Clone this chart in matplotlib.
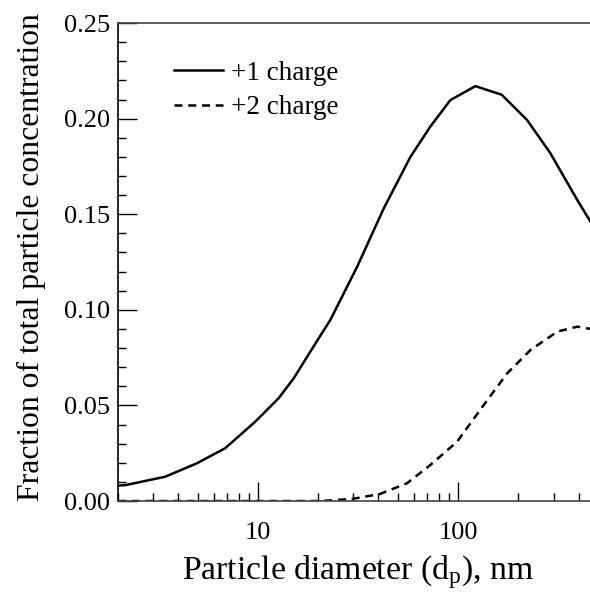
import matplotlib
matplotlib.use("Agg")
import matplotlib.pyplot as plt
from matplotlib.ticker import LogLocator, FixedLocator, MultipleLocator, NullFormatter, FixedFormatter

plt.rcParams['font.family'] = ['Liberation Serif', 'DejaVu Serif']
plt.rcParams['mathtext.fontset'] = 'custom'
plt.rcParams['mathtext.rm'] = 'Liberation Serif'
plt.rcParams['mathtext.it'] = 'Liberation Serif'

# +1 charge
d1 = [2.0, 2.2, 3.44, 4.95, 6.86, 9.7, 12.7, 15.1, 19.4, 23.0, 31.3, 42.5, 57.8, 72.6, 91.5, 122.0, 165.0, 221.0, 289.0, 394.0, 459.0, 500.0]
v1 = [0.0080, 0.0084, 0.0127, 0.0197, 0.0276, 0.0415, 0.0538, 0.0642, 0.0825, 0.0947, 0.1225, 0.1530, 0.1800, 0.1958, 0.2097, 0.2170, 0.2125, 0.1993, 0.1819, 0.1574, 0.1460, 0.1400]
# +2 charge
d2 = [2.0, 5.0, 10.0, 20.0, 23.0, 30.0, 40.8, 55.6, 72.6, 98.8, 140.0, 176.0, 230.0, 313.0, 394.0, 459.0, 500.0]
v2 = [0.0, 0.0, 0.0, 0.0, 0.0003, 0.0012, 0.0037, 0.0093, 0.0188, 0.0310, 0.0528, 0.0668, 0.0790, 0.0886, 0.0912, 0.0900, 0.0895]

labels = ['+1 charge', '+2 charge']
yticks = [0.00, 0.05, 0.10, 0.15, 0.20, 0.25]
xticks = [10, 100]

fig = plt.figure(figsize=(5.90, 5.92), dpi=100)
ax = fig.add_axes([0.2, 0.1537, 0.8136, 0.8074])

ax.plot(d1, v1, color='black', lw=1.8, label=labels[0])
ax.plot(d2, v2, color='black', lw=1.8, linestyle=(0, (3.2, 2.3)), label=labels[1])

ax.set_xscale('log')
ax.set_xlim(2.0, 500)
ax.set_ylim(0, 0.25)

ax.xaxis.set_major_locator(FixedLocator(xticks))
ax.xaxis.set_major_formatter(FixedFormatter([str(t) for t in xticks]))
ax.xaxis.set_minor_locator(LogLocator(base=10, subs=[2, 3, 4, 5, 6, 7, 8, 9], numticks=20))
ax.xaxis.set_minor_formatter(NullFormatter())
ax.set_yticks(yticks)
ax.set_yticklabels([f"{t:.2f}" for t in yticks])
ax.yaxis.set_minor_locator(MultipleLocator(0.01))

ax.tick_params(which='major', direction='in', length=14, width=1.0, labelsize=19, pad=6,
               top=False, right=False)
ax.tick_params(which='minor', direction='in', length=6, width=1.0, top=False, right=False)
ax.tick_params(axis='x', which='major', pad=15)

ax.spines['right'].set_visible(False)
for s in ['top', 'bottom', 'left']:
    ax.spines[s].set_linewidth(1.2)
ax.spines['top'].set_color('#444444')
ax.spines['bottom'].set_color('#444444')

ax.set_xlabel('Particle diameter (d$_\\mathrm{p}$), nm', fontsize=24.3, labelpad=7)
ax.set_ylabel('Fraction of total particle concentration', fontsize=22.8)
ax.yaxis.set_label_coords(-0.15, 0.51)

leg = ax.legend(loc='upper left', bbox_to_anchor=(0.083, 0.955), frameon=False, fontsize=19.5,
                handlelength=1.8, handletextpad=0.3, labelspacing=0.35, borderaxespad=0.2)

fig.savefig('out.png', dpi=100)
